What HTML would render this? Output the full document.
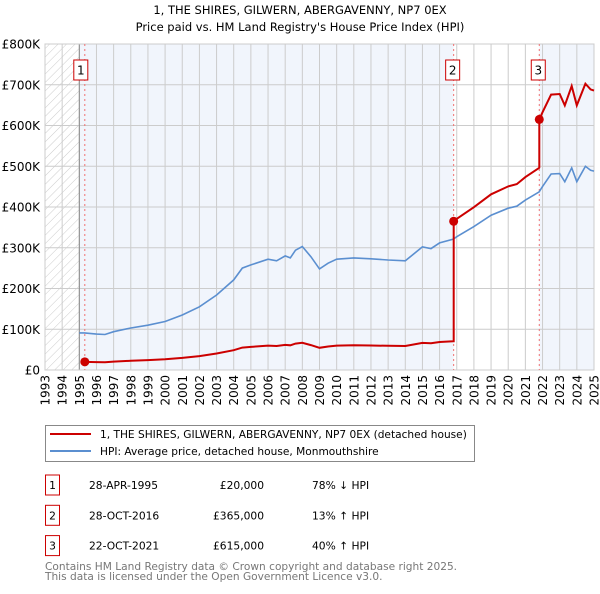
<!DOCTYPE html>
<html><head><meta charset="utf-8"><style>
body{margin:0;background:#fff;font-family:"DejaVu Sans","Liberation Sans",sans-serif;}
svg text{font-family:"DejaVu Sans","Liberation Sans",sans-serif;}
</style></head><body>
<svg id="chart" width="600" height="590" xmlns="http://www.w3.org/2000/svg">
<defs><pattern id="hatch" width="6" height="6" patternUnits="userSpaceOnUse" patternTransform="rotate(45)"><line x1="0" y1="0" x2="0" y2="6" stroke="#ccc" stroke-width="1"/></pattern></defs>
<text x="300" y="14" text-anchor="middle" font-size="11.5">1, THE SHIRES, GILWERN, ABERGAVENNY, NP7 0EX</text>
<text x="300" y="31" text-anchor="middle" font-size="11.5">Price paid vs. HM Land Registry's House Price Index (HPI)</text>
<g id="plot"></g>
<g id="legend">
<rect x="45.5" y="425.5" width="429" height="36" fill="#fff" stroke="#888"/>
<line x1="50" y1="434" x2="91" y2="434" stroke="#cc0000" stroke-width="2"/>
<text x="100" y="438" font-size="10.6">1, THE SHIRES, GILWERN, ABERGAVENNY, NP7 0EX (detached house)</text>
<line x1="50" y1="451" x2="91" y2="451" stroke="#5b8fd0" stroke-width="2"/>
<text x="100" y="455" font-size="10.6">HPI: Average price, detached house, Monmouthshire</text>
</g>
<g id="table" font-size="10.7"></g>
<text x="45" y="570" font-size="10.6" fill="#777">Contains HM Land Registry data © Crown copyright and database right 2025.</text>
<text x="45" y="580" font-size="10.6" fill="#777">This data is licensed under the Open Government Licence v3.0.</text>
</svg>
<script>
const hpiYears=[1995.0,1995.3,1996,1996.5,1997,1998,1999,2000,2001,2002,2003,2004,2004.5,2005,2006,2006.5,2007,2007.3,2007.6,2008,2008.5,2009,2009.5,2010,2011,2012,2013,2014,2015,2015.5,2016,2016.8,2017,2018,2019,2020,2020.5,2021,2021.8,2022,2022.5,2023,2023.3,2023.7,2024,2024.5,2024.8,2025];
const hpiValues=[91,91,88,87,94,103,110,119,135,155,184,221,250,258,272,268,280,275,294,303,278,248,262,272,275,273,270,268,302,298,312,321,327,352,380,397,402,417,437,450,481,482,462,496,462,500,490,488];
const saleDates=[1995.32,2016.82,2021.81];
const salePrices=[20,365,615];
const saleLabels=["1","2","3"];
const saleDateText=["28-APR-1995","28-OCT-2016","22-OCT-2021"];
const salePriceText=["£20,000","£365,000","£615,000"];
const saleHpiText=["78% ↓ HPI","13% ↑ HPI","40% ↑ HPI"];
const yTicks=[0,100,200,300,400,500,600,700,800];
const yTickLabels=["£0","£100K","£200K","£300K","£400K","£500K","£600K","£700K","£800K"];
const xTicks=[1993,1994,1995,1996,1997,1998,1999,2000,2001,2002,2003,2004,2005,2006,2007,2008,2009,2010,2011,2012,2013,2014,2015,2016,2017,2018,2019,2020,2021,2022,2023,2024,2025];

const NS="http://www.w3.org/2000/svg";
const X0=45,X1=594,Y0=370,Y1=44;
const xs=y=>X0+(y-1993)*(X1-X0)/32;
const ys=v=>Y0-v*(Y0-Y1)/800;
function mk(tag,attrs,parent){const e=document.createElementNS(NS,tag);for(const k in attrs)e.setAttribute(k,attrs[k]);parent.appendChild(e);return e;}
function hpiAt(t){for(let i=0;i<hpiYears.length-1;i++){if(t<=hpiYears[i+1]){const f=(t-hpiYears[i])/(hpiYears[i+1]-hpiYears[i]);return hpiValues[i]+f*(hpiValues[i+1]-hpiValues[i]);}}return hpiValues[hpiValues.length-1];}
const plot=document.getElementById('plot');
let r=mk('rect',{x:X0,y:Y1,width:xs(1995)-X0,height:Y0-Y1,fill:'url(#hatch)'},plot);


r=mk('rect',{x:xs(1995),y:Y1,width:xs(saleDates[1])-xs(1995),height:Y0-Y1,fill:'#f1f5fc'},plot);


r=mk('rect',{x:xs(saleDates[2]),y:Y1,width:X1-xs(saleDates[2]),height:Y0-Y1,fill:'#f1f5fc'},plot);


yTicks.forEach((v,i)=>{const l=mk('line',{x1:X0,x2:X1,y1:ys(v),y2:ys(v),stroke:'#ccc','stroke-width':1},plot);


const t=mk('text',{x:40,y:ys(v)+4.5,'text-anchor':'end','font-size':12},plot);t.textContent=yTickLabels[i];

});
xTicks.forEach(y=>{const l=mk('line',{x1:xs(y),x2:xs(y),y1:Y1,y2:Y0,stroke:'#ccc','stroke-width':1},plot);


const t=mk('text',{x:0,y:0,'font-size':12,transform:`translate(${xs(y)+4.5},${Y0+5}) rotate(-90)`,'text-anchor':'end'},plot);t.textContent=y;

});
let l=mk('line',{x1:xs(1995),x2:xs(1995),y1:Y1,y2:Y0,stroke:'#888'},plot);


r=mk('rect',{x:X0,y:Y1,width:X1-X0,height:Y0-Y1,fill:'none',stroke:'#ccc'},plot);


saleDates.forEach((d,i)=>{const v=mk('line',{x1:xs(d),x2:xs(d),y1:Y1,y2:Y0,stroke:'#f07070','stroke-dasharray':'2,3'},plot);


const b=mk('rect',{x:xs(d)-(i==0?11:8),y:60,width:14,height:20,fill:'#fff',stroke:'#cc0000'},plot);


const t=mk('text',{x:xs(d)-(i==0?4:1),y:74.5,'text-anchor':'middle','font-size':12},plot);t.textContent=saleLabels[i];

});
let pts=hpiYears.map((y,i)=>xs(y).toFixed(1)+','+ys(hpiValues[i]).toFixed(1));
const hp=mk('polyline',{points:pts.join(' '),fill:'none',stroke:'#5b8fd0','stroke-width':1.6},plot);


let rp=[];
const grid=[...new Set([...hpiYears.filter(y=>y>=saleDates[0]),...saleDates])].sort((a,b)=>a-b);
grid.forEach(t=>{let k=0;for(let i=0;i<saleDates.length;i++)if(t>=saleDates[i])k=i;
if(saleDates.includes(t)&&k>0){const pk=k-1;rp.push([t,salePrices[pk]*hpiAt(t)/hpiAt(saleDates[pk])]);}
rp.push([t,salePrices[k]*hpiAt(t)/hpiAt(saleDates[k])]);});
const pp=mk('polyline',{points:rp.map(p=>xs(p[0]).toFixed(1)+','+ys(p[1]).toFixed(1)).join(' '),fill:'none',stroke:'#cc0000','stroke-width':2},plot);


saleDates.forEach((d,i)=>{const c=mk('circle',{cx:xs(d),cy:ys(salePrices[i]),r:4.5,fill:'#cc0000'},plot);

});
const tb=document.getElementById('table');
saleLabels.forEach((s,i)=>{const y=484+i*30.3;
const b=mk('rect',{x:45.5,y:y-9,width:14,height:20,fill:'#fff',stroke:'#cc0000'},tb);


const cells=[[52.5,s,'middle'],[89,saleDateText[i],'start'],[264,salePriceText[i],'end'],[312,saleHpiText[i],'start']];
cells.forEach((c,j)=>{const t=mk('text',{x:c[0],y:y+5,'text-anchor':c[2]},tb);
t.textContent=c[1];

});});
</script>
</body></html>
